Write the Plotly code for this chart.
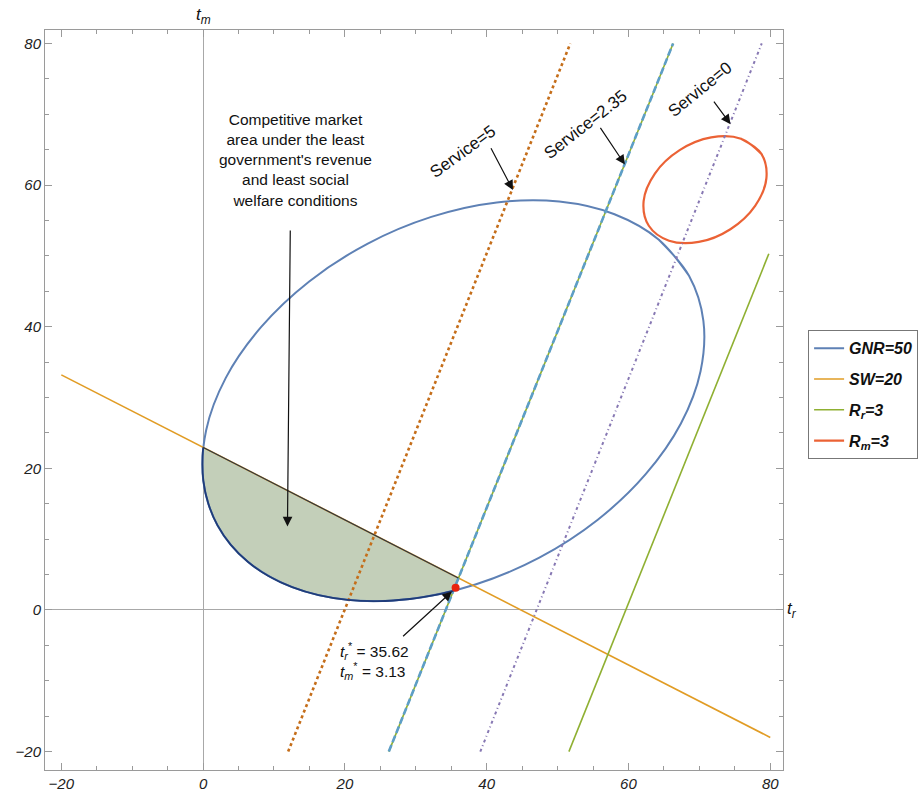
import plotly.graph_objects as go

# GNR = 50 contour (counter-clockwise, start repeated to close)
gnr_x = [68.56, 64.29, 58.03, 50.24, 41.43, 32.19, 23.17, 14.97, 8.17, 3.20, 0.43, 0.03, 2.04,
         6.31, 12.57, 20.36, 29.17, 38.41, 47.43, 55.63, 62.43, 67.40, 70.17, 70.57, 68.56, 64.29]
gnr_y = [47.16, 52.29, 55.88, 57.67, 57.55, 55.51, 51.71, 46.39, 39.93, 32.77, 25.38, 18.27, 11.94,
         6.81, 3.22, 1.43, 1.55, 3.59, 7.39, 12.71, 19.17, 26.33, 33.72, 40.83, 47.16, 52.29]

# lower-left arc of GNR between the SW line and the optimum (shaded area)
arc_x = [0.03, -0.07, 0.03, 0.75, 2.04, 3.91, 6.31, 9.21, 12.57, 16.29, 20.36, 24.67, 29.17, 32.23, 35.32]
arc_y = [22.95, 21.76, 18.27, 14.98, 11.94, 9.20, 6.81, 4.80, 3.22, 2.09, 1.43, 1.25, 1.55, 2.03, 2.71]
chord_x = [0.03, 36.0]
chord_y = [22.95, 4.52]

# SW = 20
sw_x = [-20, 80]
sw_y = [33.2, -18.0]

# R_r = 3 (two branches)
rr_x = [26.2, 66.3, None, 51.6, 79.8]
rr_y = [-20, 80, None, -20, 50.3]

# R_m = 3 (start repeated to close)
rm_x = [78.73, 75.88, 71.67, 67.22, 63.73, 62.14, 62.87, 65.72, 69.93, 74.38, 77.87, 79.46, 78.73, 75.88]
rm_y = [64.44, 66.55, 66.73, 64.93, 61.63, 57.73, 54.26, 52.15, 51.97, 53.77, 57.07, 60.97, 64.44, 66.55]

# service lines
s5_x, s5_y = [12.0, 51.8], [-20, 80]
s235_x, s235_y = [26.2, 66.3], [-20, 80]
s0_x, s0_y = [39.1, 78.8], [-20, 80]

opt_x, opt_y = [35.62], [3.13]

blue = "#5E81B5"
orange = "#E19C24"
green = "#8FB032"
red = "#EB6235"
purple = "#8778B3"
brown = "#C56E1A"
lightblue = "#5D9EC7"
navy = "#1F3C7A"

fig = go.Figure()

# shaded area: arc and the SW chord back to its start
fig.add_trace(go.Scatter(x=arc_x + chord_x[::-1], y=arc_y + chord_y[::-1], mode="lines",
                         fill="toself", fillcolor="#C3CFB9", line=dict(width=0),
                         showlegend=False, hoverinfo="skip"))

fig.add_trace(go.Scatter(x=gnr_x, y=gnr_y, mode="lines", line=dict(color=blue, width=2, shape="spline"),
                         name="<b><i>GNR=50</i></b>", legendgroup="a"))
fig.add_trace(go.Scatter(x=sw_x, y=sw_y, mode="lines", line=dict(color=orange, width=1.6),
                         name="<b><i>SW=20</i></b>", legendgroup="b"))
fig.add_trace(go.Scatter(x=rr_x, y=rr_y, mode="lines", line=dict(color=green, width=1.6),
                         name="<b><i>R<sub>r</sub>=3</i></b>", legendgroup="c"))
fig.add_trace(go.Scatter(x=rm_x, y=rm_y, mode="lines", line=dict(color=red, width=2.2, shape="spline"),
                         name="<b><i>R<sub>m</sub>=3</i></b>", legendgroup="d"))

fig.add_trace(go.Scatter(x=s5_x, y=s5_y, mode="lines", line=dict(color=brown, width=2.6, dash="dot"),
                         showlegend=False))
fig.add_trace(go.Scatter(x=s235_x, y=s235_y, mode="lines", line=dict(color=lightblue, width=2.6, dash="7px,3px"),
                         showlegend=False))
fig.add_trace(go.Scatter(x=s0_x, y=s0_y, mode="lines", line=dict(color=purple, width=2, dash="3px,3px,1px,3px"),
                         showlegend=False))

# outline of the shaded area
fig.add_trace(go.Scatter(x=arc_x, y=arc_y, mode="lines", line=dict(color=navy, width=1.8, shape="spline"),
                         showlegend=False))
fig.add_trace(go.Scatter(x=chord_x, y=chord_y, mode="lines", line=dict(color="#2A3545", width=1.2),
                         showlegend=False))

fig.add_trace(go.Scatter(x=opt_x, y=opt_y, mode="markers", marker=dict(color="#E8230F", size=8),
                         showlegend=False))

txt = dict(family="Liberation Sans, Arial", size=15.5, color="#111")
svc = dict(family="Liberation Sans, Arial", size=17, color="#111")

# notes and arrows
fig.add_annotation(x=13.0, y=63.5, showarrow=False, font=txt, align="center",
                   text="Competitive market<br>area under the least<br>government's revenue<br>and least social<br>welfare conditions")
services = [
    dict(x=36.7, y=64.7, text="Service=5", textangle=-36),
    dict(x=54.0, y=68.5, text="Service=2.35", textangle=-38),
    dict(x=70.1, y=73.5, text="Service=0", textangle=-39),
]
for n in services:
    fig.add_annotation(x=n["x"], y=n["y"], text=n["text"], textangle=n["textangle"], showarrow=False, font=svc)

fig.add_annotation(x=19.0, y=-7.2, xanchor="left", align="left", showarrow=False, font=txt,
                   text="<i>t</i><sub><i>r</i></sub><sup>*</sup> = 35.62<br><i>t</i><sub><i>m</i></sub><sup>*</sup> = 3.13")

arrows = [
    ((12.3, 53.8), (11.9, 11.8)),
    ((40.5, 65.4), (43.7, 59.3)),
    ((55.9, 68.3), (59.5, 62.9)),
    ((71.9, 72.0), (74.4, 68.6)),
    ((28.0, -3.9), (35.1, 2.6)),
]
for (tx, ty), (hx, hy) in arrows:
    fig.add_annotation(x=hx, y=hy, ax=tx, ay=ty, axref="x", ayref="y", text="", showarrow=True,
                       arrowhead=2, arrowsize=1.6, arrowwidth=1.2, arrowcolor="#111")

# axis labels
fig.add_annotation(x=0, y=1, xref="x", yref="paper", yanchor="bottom", showarrow=False, yshift=1,
                   text="<i>t<sub>m</sub></i>", font=dict(family="Liberation Sans, Arial", size=17, color="#111"))
fig.add_annotation(x=1, y=0, xref="paper", yref="y", xanchor="left", showarrow=False, xshift=2,
                   text="<i>t<sub>r</sub></i>", font=dict(family="Liberation Sans, Arial", size=17, color="#111"))

axis = dict(showgrid=False, showline=True, linecolor="#9a9a9a", linewidth=1, mirror="ticks",
            ticks="inside", ticklen=7, tickcolor="#9a9a9a", tick0=0, dtick=20, automargin=False,
            zeroline=True, zerolinecolor="#a8a8a8", zerolinewidth=1,
            tickfont=dict(family="Liberation Sans, Arial", size=15, color="#222", style="italic"),
            minor=dict(dtick=5, ticks="inside", ticklen=4, tickcolor="#9a9a9a", showgrid=False))

fig.update_xaxes(range=[-22.3, 81.8], **axis)
fig.update_yaxes(range=[-22.6, 81.9], **axis)

fig.update_layout(
    width=920, height=792,
    margin=dict(l=45, r=137, t=30, b=22, autoexpand=False),
    plot_bgcolor="white", paper_bgcolor="white",
    legend=dict(x=1.034, y=0.507, xanchor="left", yanchor="middle", bordercolor="#777", borderwidth=1,
                font=dict(family="Liberation Sans, Arial", size=16, color="#111"), itemwidth=30,
                traceorder="grouped", tracegroupgap=7),
)

# the page body has a default 8px margin; drop it so the figure sits at the window corner
fig.write_html("out.html", config={"displayModeBar": False},
               post_script="document.body.style.margin='0';document.body.style.overflow='hidden';")
